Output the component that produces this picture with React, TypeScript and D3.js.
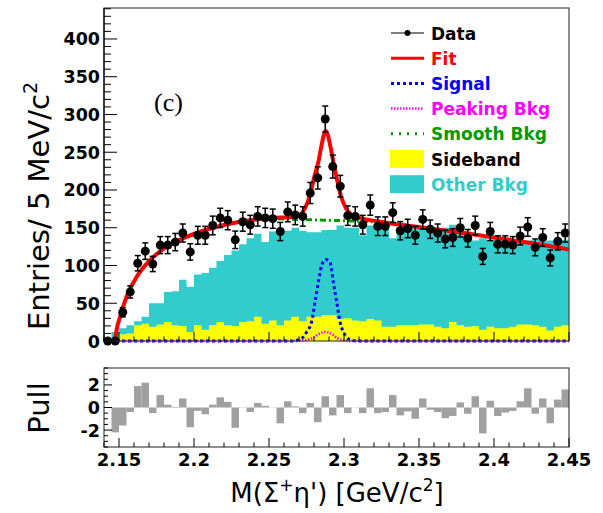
import * as d3 from 'd3'

// bin edges: 2.14 .. 2.45 GeV, 5 MeV bins
const binLow = 2.14
const binWidth = 0.005

// data entries per bin (62 bins)
const dataCounts = [
  0, 0, 38, 65, 103, 119, 102, 127, 127, 131,
  143, 118, 140, 140, 153, 163, 160, 134, 158, 154,
  165, 163, 162, 145, 171, 167, 165, 196, 216, 294,
  231, 205, 166, 165, 154, 180, 152, 152, 170, 146,
  149, 140, 161, 148, 143, 135, 137, 150, 136, 153,
  112, 145, 128, 128, 127, 139, 151, 124, 137, 110,
  132, 143
]

// sideband histogram (yellow)
const sideband = [
  0, 4, 9, 10, 21, 23, 19, 22, 25, 21,
  20, 12, 21, 15, 21, 25, 21, 20, 25, 26,
  32, 23, 27, 21, 27, 32, 26, 32, 32, 34,
  34, 29, 30, 27, 26, 29, 27, 19, 19, 21,
  21, 21, 22, 22, 19, 17, 25, 21, 19, 20,
  15, 19, 17, 17, 19, 22, 22, 21, 19, 14,
  19, 21
]

// other bkg histogram top (cyan)
const otherBkg = [
  0, 12, 17, 21, 26, 32, 50, 50, 65, 66,
  81, 72, 88, 90, 97, 106, 114, 120, 128, 136,
  142, 131, 145, 147, 146, 150, 146, 144, 144, 147,
  147, 153, 150, 150, 140, 153, 154, 154, 136, 150,
  150, 150, 150, 145, 150, 150, 154, 151, 145, 133,
  136, 134, 135, 133, 135, 134, 133, 134, 132, 133,
  134, 134
]

// pull per bin
const pulls = [
  0, -2.2, -1.6, -0.4, 1.9, 2.2, -0.5, 1.1, 0.25, 0.05,
  0.8, -1.75, -0.3, -0.6, 0.25, 0.9, 0.5, -1.8, 0.02, -0.4,
  0.4, 0.15, 0.02, -1.4, 0.55, 0.1, -0.5, 0.4, -1.3, 1.0,
  -0.7, 1.1, -0.5, 0.02, -0.5, 1.7, -0.5, -0.4, 1.1, -0.7,
  -0.35, -1.0, 0.8, -0.2, -0.4, -0.95, -0.75, 0.45, -0.55, 1.0,
  -2.3, 0.6, -0.75, -0.45, -0.3, 0.55, 1.7, -0.55, 0.8, -1.4,
  0.7, 1.6
]

// curves: [mass, entries]
const fitCurve = [
  [2.14, 0], [2.1472, 0], [2.1485, 16], [2.1507, 32], [2.1551, 59], [2.1618, 85],
  [2.1707, 107], [2.1818, 125], [2.1951, 138], [2.2127, 150], [2.2307, 158],
  [2.2527, 163], [2.264, 164], [2.2695, 166], [2.274, 176], [2.2773, 193],
  [2.28, 216], [2.2829, 237], [2.2851, 260], [2.2866, 273], [2.2878, 278],
  [2.2892, 273], [2.2907, 260], [2.2929, 237], [2.2951, 216], [2.2978, 193],
  [2.3013, 176], [2.3073, 165], [2.324, 158], [2.35, 151], [2.38, 143],
  [2.41, 134], [2.43, 128], [2.45, 121]
]
const smoothCurve = [
  [2.14, 0], [2.1472, 0], [2.1485, 16], [2.1507, 32], [2.1551, 59], [2.1618, 85],
  [2.1707, 107], [2.1818, 125], [2.1951, 138], [2.2127, 150], [2.2307, 158],
  [2.2527, 162], [2.27, 161], [2.2875, 160], [2.305, 159], [2.324, 157.5],
  [2.35, 151], [2.38, 143], [2.41, 134], [2.43, 128], [2.45, 121]
]
const signalCurve = [
  [2.14, 0], [2.265, 0], [2.2715, 3], [2.2751, 12], [2.2785, 26], [2.2807, 52],
  [2.2829, 78], [2.2851, 100], [2.2878, 108], [2.2907, 104], [2.2929, 78],
  [2.2951, 52], [2.2973, 26], [2.3007, 8], [2.305, 1], [2.31, 0], [2.45, 0]
]
const peakingCurve = [
  [2.14, 0], [2.268, 0], [2.273, 1], [2.2793, 4], [2.283, 9], [2.2875, 12],
  [2.292, 9], [2.2953, 4], [2.2993, 1], [2.305, 0], [2.45, 0]
]

const xTicks = [2.15, 2.2, 2.25, 2.3, 2.35, 2.4, 2.45]
const yTicks = [0, 50, 100, 150, 200, 250, 300, 350, 400]
const pullTicks = [-2, 0, 2]

const legendItems = [
  { label: 'Data', color: '#000', kind: 'data' },
  { label: 'Fit', color: '#ff0000', kind: 'fit' },
  { label: 'Signal', color: '#0000ff', kind: 'signal' },
  { label: 'Peaking Bkg', color: '#ff00ff', kind: 'peaking' },
  { label: 'Smooth Bkg', color: '#009a00', kind: 'smooth' },
  { label: 'Sideband', color: '#000', kind: 'sideband' },
  { label: 'Other Bkg', color: '#33cccc', kind: 'other' }
]

const font = "'DejaVu Sans', Verdana, sans-serif"

export default function App() {
  const left = 104
  const right = 569
  const top = 8
  const bottom = 341
  const pTop = 368
  const pBottom = 447

  const x = d3.scaleLinear().domain([2.14, 2.45]).range([left, right])
  const y = d3.scaleLinear().domain([0, 441]).range([bottom, top])
  const yp = d3.scaleLinear().domain([-3.5, 3.5]).range([pBottom, pTop])

  const line = d3.line<number[]>()
    .x(d => x(d[0]))
    .y(d => y(d[1]))
    .curve(d3.curveMonotoneX)

  const bins = dataCounts.map((n, i) => ({
    i,
    x0: binLow + i * binWidth,
    x1: binLow + (i + 1) * binWidth,
    xc: binLow + (i + 0.5) * binWidth,
    n
  }))

  const minorX = d3.range(2.14, 2.4501, 0.01)
  const minorY = d3.range(0, 441, 10)
  const minorP = d3.range(-3.5, 3.51, 0.5)
  const isMajorX = (v: number) => Math.abs((v - 2.15) / 0.05 - Math.round((v - 2.15) / 0.05)) < 0.01

  // stepped area path for a histogram
  const histPath = (vals: number[]) => {
    let p = `M${x(binLow)},${y(0)}`
    vals.forEach((v, i) => {
      p += `L${x(binLow + i * binWidth)},${y(v)}L${x(binLow + (i + 1) * binWidth)},${y(v)}`
    })
    p += `L${x(binLow + vals.length * binWidth)},${y(0)}Z`
    return p
  }

  return (
    <div style={{ position: 'absolute', left: 0, top: 0 }}>
      <svg width={603} height={513} style={{ display: 'block', background: '#fff' }}>
        {/* histograms */}
        <path d={histPath(otherBkg)} fill="#33cccc" />
        <path d={histPath(sideband)} fill="#ffff00" />

        {/* curves */}
        <path d={line(peakingCurve as any) || ''} fill="none" stroke="#ff00ff" strokeWidth={2.5} strokeDasharray="1.5 1.5" />
        <path d={line(signalCurve as any) || ''} fill="none" stroke="#0000ff" strokeWidth={3} strokeDasharray="3 3" />
        <path d={line(smoothCurve as any) || ''} fill="none" stroke="#009a00" strokeWidth={3} strokeDasharray="6 3 2 3" />
        <path d={line(fitCurve as any) || ''} fill="none" stroke="#ff0000" strokeWidth={4} />

        {/* data points */}
        {bins.map(b => {
          const e = Math.sqrt(b.n)
          const cx = x(b.xc)
          return (
            <g key={b.i}>
              {b.n > 0 && (
                <g stroke="#000" strokeWidth={1.5}>
                  <line x1={cx} x2={cx} y1={y(b.n + e)} y2={y(b.n - e)} />
                  <line x1={cx - 3} x2={cx + 3} y1={y(b.n + e)} y2={y(b.n + e)} />
                  <line x1={cx - 3} x2={cx + 3} y1={y(b.n - e)} y2={y(b.n - e)} />
                </g>
              )}
              <circle cx={cx} cy={y(b.n)} r={4.5} fill="#000" />
            </g>
          )
        })}

        {/* main frame & axes */}
        <rect x={left} y={top} width={right - left} height={bottom - top} fill="none" stroke="#444" strokeWidth={1.2} />
        {minorY.map(v => (
          <line key={'my' + v} x1={left} x2={left + (v % 50 === 0 ? 13 : 7)} y1={y(v)} y2={y(v)} stroke="#000" strokeWidth={1} />
        ))}
        {minorX.map((v, i) => (
          <line key={'mx' + i} x1={x(v)} x2={x(v)} y1={bottom} y2={bottom - (isMajorX(v) ? 9 : 4.5)} stroke="#000" strokeWidth={1} />
        ))}
        <line x1={left} x2={left} y1={top} y2={bottom} stroke="#000" strokeWidth={1.2} />
        {yTicks.map(v => (
          <text key={'yt' + v} x={100} y={y(v) + 6.5} textAnchor="end" fontFamily={font} fontWeight="bold" fontSize={17.5} fill="#000">{v}</text>
        ))}
        <text transform={`translate(49,206) rotate(-90)`} textAnchor="middle" fontFamily={font} fontSize={29} fill="#000">
          Entries/ 5 MeV/c<tspan fontSize={19} dy={-12}>2</tspan>
        </text>
        <text x={154} y={111} fontFamily="'Liberation Serif', 'Times New Roman', serif" fontSize={26} fill="#000">(c)</text>

        {/* legend */}
        {legendItems.map((d, i) => {
          const cy = 33 + i * 25.2
          let sample = null
          if (d.kind === 'data') {
            sample = (
              <g>
                <line x1={391} x2={424} y1={cy} y2={cy} stroke="#000" strokeWidth={1.2} />
                <circle cx={407.5} cy={cy} r={3} fill="#000" />
              </g>
            )
          } else if (d.kind === 'fit') {
            sample = <line x1={391} x2={424} y1={cy} y2={cy} stroke="#ff0000" strokeWidth={3} />
          } else if (d.kind === 'signal') {
            sample = <line x1={391} x2={424} y1={cy} y2={cy} stroke="#0000ff" strokeWidth={3} strokeDasharray="3 3" />
          } else if (d.kind === 'peaking') {
            sample = <line x1={391} x2={424} y1={cy} y2={cy} stroke="#ff00ff" strokeWidth={2.5} strokeDasharray="1.5 1.5" />
          } else if (d.kind === 'smooth') {
            sample = <line x1={391} x2={424} y1={cy} y2={cy} stroke="#009a00" strokeWidth={3} strokeDasharray="2 6" />
          } else if (d.kind === 'sideband') {
            sample = <rect x={390} y={cy - 9} width={34} height={18} fill="#ffff00" />
          } else {
            sample = <rect x={390} y={cy - 9} width={34} height={18} fill="#33cccc" />
          }
          return (
            <g key={d.label}>
              {sample}
              <text x={431} y={cy + 6.5} fontFamily={font} fontWeight="bold" fontSize={17} fill={d.color}>{d.label}</text>
            </g>
          )
        })}

        {/* pull panel */}
        {bins.map(b => {
          const p = pulls[b.i]
          const y0 = yp(0)
          const y1 = yp(p)
          return (
            <rect key={'p' + b.i} x={x(b.x0)} width={x(b.x1) - x(b.x0)} y={Math.min(y0, y1)} height={Math.abs(y1 - y0)} fill="#a0a0a0" />
          )
        })}
        <rect x={left} y={pTop} width={right - left} height={pBottom - pTop} fill="none" stroke="#444" strokeWidth={1.2} />
        {minorP.map((v, i) => (
          <line key={'mp' + i} x1={left} x2={left + (Math.abs(v % 2) < 0.01 ? 8 : 4)} y1={yp(v)} y2={yp(v)} stroke="#000" strokeWidth={1} />
        ))}
        {minorX.map((v, i) => (
          <line key={'px' + i} x1={x(v)} x2={x(v)} y1={pBottom} y2={pBottom - (isMajorX(v) ? 9 : 4.5)} stroke="#000" strokeWidth={1} />
        ))}
        {pullTicks.map(v => (
          <text key={'pt' + v} x={100} y={yp(v) + 6.5} textAnchor="end" fontFamily={font} fontWeight="bold" fontSize={17.5} fill="#000">{v}</text>
        ))}
        <text transform={`translate(49,408) rotate(-90)`} textAnchor="middle" fontFamily={font} fontSize={29} fill="#000">Pull</text>

        {xTicks.map(v => (
          <text key={'xt' + v} x={x(v)} y={466} textAnchor="middle" fontFamily={font} fontWeight="bold" fontSize={18} fill="#000">{v}</text>
        ))}
        <text x={337} y={502} textAnchor="middle" fontFamily={font} fontSize={26} fill="#000">
          M(Σ<tspan fontSize={17} dy={-11}>+</tspan><tspan dy={11}>η') [GeV/c</tspan><tspan fontSize={17} dy={-11}>2</tspan><tspan dy={11}>]</tspan>
        </text>
      </svg>
    </div>
  )
}
